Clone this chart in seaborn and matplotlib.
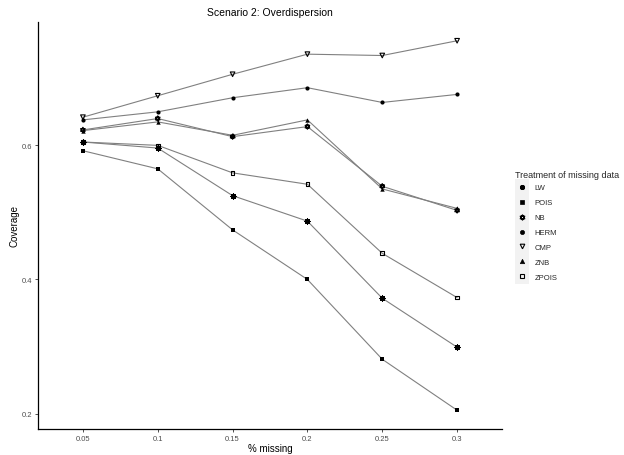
import numpy as np
import pandas as pd
import matplotlib
matplotlib.use("Agg")
import matplotlib.pyplot as plt
import seaborn as sns
from matplotlib.lines import Line2D
from matplotlib.patches import Rectangle
from matplotlib.path import Path
from matplotlib.legend_handler import HandlerLine2D

x_labels = ["0.05", "0.1", "0.15", "0.2", "0.25", "0.3"]
methods = ["LW", "POIS", "NB", "HERM", "CMP", "ZNB", "ZPOIS"]
lw_vals = [0.605, 0.596, 0.525, 0.487, 0.372, 0.299]
pois_vals = [0.592, 0.565, 0.474, 0.400, 0.281, 0.205]
nb_vals = [0.623, 0.640, 0.613, 0.628, 0.539, 0.503]
herm_vals = [0.638, 0.650, 0.671, 0.686, 0.664, 0.676]
cmp_vals = [0.642, 0.674, 0.706, 0.736, 0.734, 0.756]
znb_vals = [0.622, 0.635, 0.615, 0.638, 0.535, 0.506]
zpois_vals = [0.605, 0.600, 0.559, 0.542, 0.439, 0.373]
y_ticks = [0.2, 0.4, 0.6]

series = dict(zip(methods, [lw_vals, pois_vals, nb_vals, herm_vals,
                            cmp_vals, znb_vals, zpois_vals]))
df = pd.DataFrame([(m, i, v) for m in methods for i, v in enumerate(series[m])],
                  columns=["method", "pos", "coverage"])

# star of David marker (two triangles)
h = np.sqrt(3) / 2
tri_up = [(0, 1), (-h, -0.5), (h, -0.5), (0, 1)]
tri_dn = [(0, -1), (-h, 0.5), (h, 0.5), (0, -1)]
verts = tri_up + tri_dn
codes = [Path.MOVETO, Path.LINETO, Path.LINETO, Path.CLOSEPOLY] * 2
star_david = Path(verts, codes)

styles = {
    "LW": dict(marker=(8, 2, 0), filled=True, size=13, lw=0.9),
    "POIS": dict(marker="s", filled=True, size=8, lw=0),
    "NB": dict(marker=star_david, filled=False, size=14, lw=0.9),
    "HERM": dict(marker="o", filled=True, size=9, lw=0),
    "CMP": dict(marker="v", filled=False, size=11, lw=0.8),
    "ZNB": dict(marker="^", filled=True, size=10, lw=0),
    "ZPOIS": dict(marker="s", filled=False, size=7, lw=0.8),
}

sns.set_theme(style="white")
plt.rcParams["font.family"] = ["Liberation Sans", "DejaVu Sans"]

fig = plt.figure(figsize=(6.24, 4.56), dpi=100)
ax = fig.add_axes([0.0609, 0.057, 0.7436, 0.8926])

for m in methods:
    sub = df[df.method == m]
    sns.lineplot(data=sub, x="pos", y="coverage", ax=ax, color="#808080",
                 linewidth=0.8, estimator=None, legend=False)

for m in methods:
    sub = df[df.method == m]
    st = styles[m]
    if st["filled"]:
        sns.scatterplot(data=sub, x="pos", y="coverage", ax=ax, marker=st["marker"],
                        s=st["size"], color="black", edgecolor="black",
                        linewidth=st["lw"], legend=False, zorder=3)
    else:
        sns.scatterplot(data=sub, x="pos", y="coverage", ax=ax, marker=st["marker"],
                        s=st["size"], facecolors="none", edgecolor="black",
                        linewidth=st["lw"], legend=False, zorder=3)

ax.set_xlim(-0.6, 5.6)
ax.set_ylim(0.177, 0.784)
ax.set_xticks(range(len(x_labels)))
ax.set_xticklabels(x_labels)
ax.set_yticks(y_ticks)
ax.set_yticklabels([f"{t:g}" for t in y_ticks])
ax.tick_params(axis="both", length=2.5, width=0.6, color="#333333",
               labelsize=5.5, labelcolor="#4d4d4d", pad=2, bottom=True, left=True)
for s in ["top", "right"]:
    ax.spines[s].set_visible(False)
for s in ["left", "bottom"]:
    ax.spines[s].set_color("black")
    ax.spines[s].set_linewidth(0.9)
ax.grid(False)
ax.set_xlabel("% missing", fontsize=7, color="black", labelpad=0.5)
ax.set_ylabel("Coverage", fontsize=7, color="black", labelpad=1.5)
ax.set_title("Scenario 2: Overdispersion", fontsize=7.5, color="black", pad=5)


class KeyHandler(HandlerLine2D):
    def create_artists(self, legend, orig_handle, xdescent, ydescent, width,
                       height, fontsize, trans):
        rect = Rectangle((-xdescent, -ydescent), width, height,
                         facecolor="#f2f2f2", edgecolor="none", transform=trans)
        mk = Line2D([width / 2 - xdescent], [height / 2 - ydescent],
                    marker=orig_handle.get_marker(), linestyle="none",
                    markersize=orig_handle.get_markersize(),
                    markerfacecolor=orig_handle.get_markerfacecolor(),
                    markeredgecolor="black",
                    markeredgewidth=orig_handle.get_markeredgewidth())
        mk.set_transform(trans)
        return [rect, mk]


handles = []
for m in methods:
    st = styles[m]
    handles.append(Line2D([], [], marker=st["marker"], linestyle="none",
                          markersize=np.sqrt(st["size"]),
                          markerfacecolor="black" if st["filled"] else "none",
                          markeredgecolor="black",
                          markeredgewidth=st["lw"] if st["lw"] > 0 else 0.5))

leg = fig.legend(handles, methods, title="Treatment of missing data",
                 loc="center left", bbox_to_anchor=(0.826, 0.5),
                 frameon=False, fontsize=5.5, title_fontsize=6.5,
                 handler_map={Line2D: KeyHandler()},
                 handlelength=1.8, handleheight=2.64, labelspacing=0.0,
                 handletextpad=0.7, borderpad=0, borderaxespad=0)
leg._legend_box.align = "left"

fig.savefig("out.png", dpi=100)
